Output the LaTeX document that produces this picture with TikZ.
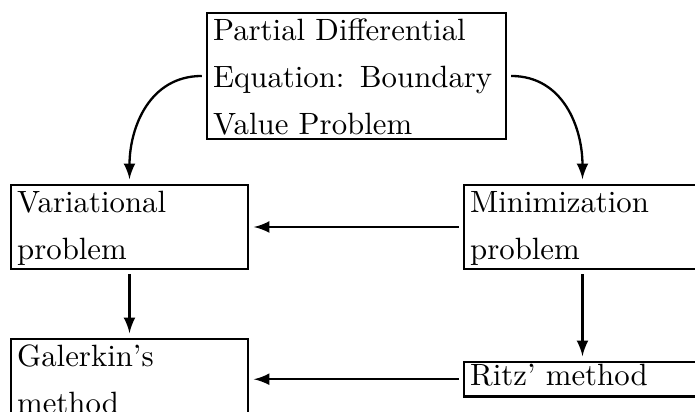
\documentclass[tikz,border=0pt]{standalone}
\begin{document}
\begin{tikzpicture}[x=0.3247pt,y=-0.3247pt,
  box/.style={draw, line width=0.75pt, align=left, anchor=north west,
    inner xsep=2pt, inner ysep=0pt, outer sep=0pt,
    font=\fontsize{10}{15.26}\selectfont},
  wide/.style={text width=93.08pt},
  narrow/.style={text width=72.95pt},
  conn/.style={-latex, line width=0.75pt, shorten <=1.7pt, shorten >=1.9pt}]
\useasboundingbox (0,0) rectangle (695,412);
\node[box, wide, text height=8.9pt, text depth=32pt] (T) at (207,13)
  {Partial Differential Equation: Boundary Value Problem};
\node[box, narrow, text height=8.77pt, text depth=18.5pt] (V) at (11,185)
  {Variational problem};
\node[box, narrow, text height=8.77pt, text depth=18.5pt] (M) at (464,185)
  {Minimization problem};
\node[box, narrow, text height=8.77pt, text depth=18.5pt] (G) at (11,339)
  {Galerkin's method};
\node[box, narrow, text height=7.79pt, text depth=3.4pt] (R) at (464,362)
  {Ritz' method};
\draw[conn] (T.west) to[out=180,in=90,looseness=1.1] (V.north);
\draw[conn] (T.east) to[out=0,in=90,looseness=1.1] (M.north);
\draw[conn] (M.west) -- (V.east);
\draw[conn] (R.west) -- (R.west -| G.east);
\draw[conn] (V.south) -- (G.north);
\draw[conn] (M.south) -- (R.north);
\end{tikzpicture}
\end{document}
